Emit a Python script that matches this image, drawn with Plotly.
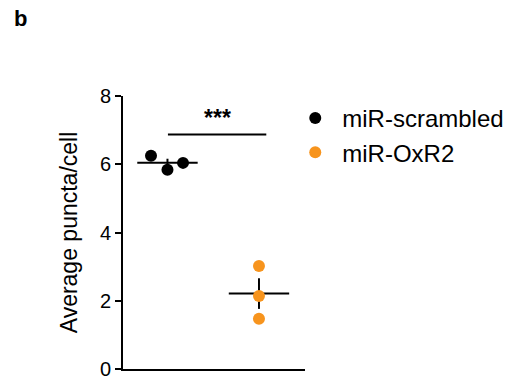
import plotly.graph_objects as go
import numpy as np

groups = ["miR-scrambled", "miR-OxR2"]
colors = ["#000000", "#F7941D"]
group_pos = [1, 2]
values = [[6.25, 5.84, 6.04], [3.02, 2.14, 1.47]]
jitter = [[-0.18, 0.0, 0.17], [0.0, 0.0, 0.0]]
y_ticks = [0, 2, 4, 6, 8]
sig_label = "***"
sig_y = 6.87
sig_x = [1.005, 2.08]
y_title = "Average puncta/cell"
panel_label = "b"

FONT = "Liberation Sans, Arial, sans-serif"
fig = go.Figure()

for i, g in enumerate(groups):
    v = np.array(values[i])
    xs = [group_pos[i] + j for j in jitter[i]]
    mean = v.mean()
    sem = v.std(ddof=1) / np.sqrt(len(v))
    fig.add_trace(go.Scatter(x=[group_pos[i] - 0.33, group_pos[i] + 0.33], y=[mean, mean],
                             mode="lines", line=dict(color="black", width=2),
                             showlegend=False, hoverinfo="skip"))
    fig.add_trace(go.Scatter(x=[group_pos[i]], y=[mean], mode="markers",
                             marker=dict(size=0.1, color="black"),
                             error_y=dict(type="constant", value=sem, color="black", thickness=2, width=0),
                             showlegend=False, hoverinfo="skip"))
    fig.add_trace(go.Scatter(x=xs, y=v, mode="markers", name=g,
                             marker=dict(size=12, color=colors[i])))

fig.add_trace(go.Scatter(x=sig_x, y=[sig_y, sig_y], mode="lines",
                         line=dict(color="black", width=2), showlegend=False, hoverinfo="skip"))
fig.add_annotation(x=sum(sig_x) / 2, y=7.35, text="<b>" + sig_label + "</b>",
                   showarrow=False, yanchor="middle", xanchor="center",
                   font=dict(size=23, color="black", family=FONT))

fig.update_layout(
    width=512, height=383,
    margin=dict(l=123, r=207, t=96, b=14, autoexpand=False),
    paper_bgcolor="white", plot_bgcolor="white",
    font=dict(family=FONT, color="black"),
    title=dict(text="<b>" + panel_label + "</b>", xref="container", yref="container",
               x=14 / 512, y=1 - 18 / 383, xanchor="left", yanchor="middle",
               font=dict(size=22, color="black", family=FONT)),
    legend=dict(x=0.908, y=1.0, xanchor="left", yanchor="top",
                font=dict(size=24, family=FONT, color="black"),
                tracegroupgap=0, itemwidth=44, bgcolor="rgba(0,0,0,0)"),
    xaxis=dict(range=[0.514, 2.503], showgrid=False, zeroline=False, showticklabels=False,
               showline=True, linecolor="black", linewidth=2, ticks="", automargin=False),
    yaxis=dict(range=[0, 8], tickvals=y_ticks, showgrid=False, zeroline=False,
               showline=True, linecolor="black", linewidth=2, ticks="outside", ticklen=6,
               tickwidth=2, tickcolor="black", tickfont=dict(size=20, family=FONT),
               automargin=False,
               title=dict(text=y_title, font=dict(size=23, family=FONT), standoff=16)),
)

fig.write_html("out.html", config={"displayModeBar": False},
               post_script="document.body.style.margin='0';document.body.style.overflow='hidden';")
